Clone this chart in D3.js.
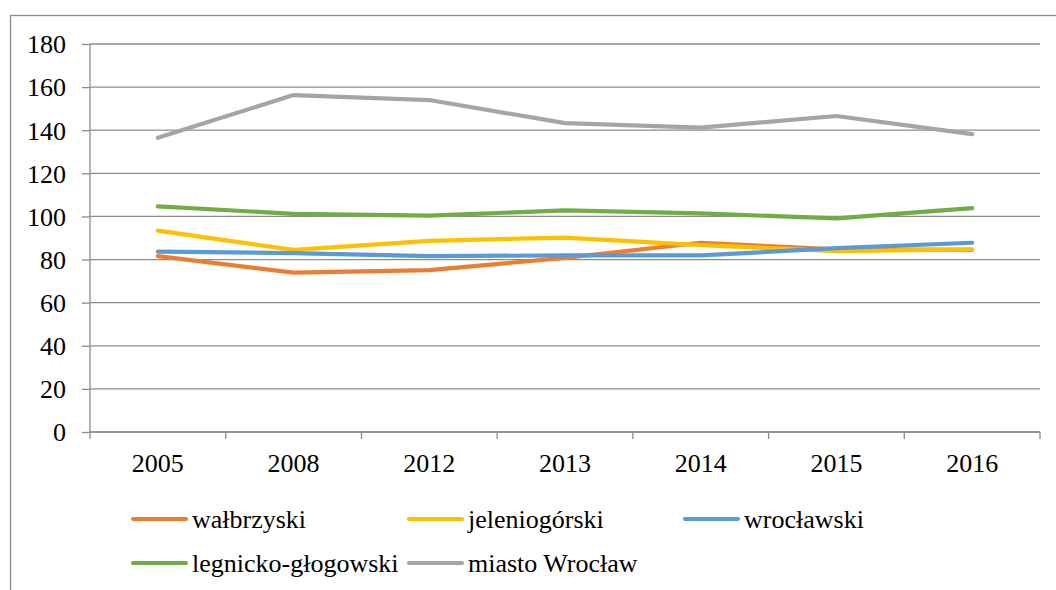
<!DOCTYPE html>
<html>
<head>
<meta charset="utf-8">
<script src="https://cdn.jsdelivr.net/npm/d3@7"></script>
<style>
  body { margin: 0; background: #fff; }
</style>
</head>
<body>
<div id="chart"></div>
<script>
var years = ["2005", "2008", "2012", "2013", "2014", "2015", "2016"];
var walbrzyski = [81.6, 73.9, 75.1, 80.8, 87.8, 84.7, 84.5];
var jeleniogorski = [93.4, 84.5, 88.7, 90.2, 86.7, 83.9, 84.7];
var wroclawski = [83.7, 83.0, 81.6, 81.9, 81.9, 85.3, 87.8];
var legnicko = [104.7, 101.2, 100.4, 102.8, 101.4, 99.1, 103.9];
var miastoWroclaw = [136.5, 156.3, 154.0, 143.3, 141.2, 146.6, 138.2];
var yTicks = [0, 20, 40, 60, 80, 100, 120, 140, 160, 180];

var series = [
    {name: "wałbrzyski", values: walbrzyski, color: "#ED7D31"},
    {name: "jeleniogórski", values: jeleniogorski, color: "#FFC000"},
    {name: "wrocławski", values: wroclawski, color: "#5B9BD5"},
    {name: "legnicko-głogowski", values: legnicko, color: "#70AD47"},
    {name: "miasto Wrocław", values: miastoWroclaw, color: "#A5A5A5"}
];

var font = "'Liberation Serif', 'Times New Roman', 'DejaVu Serif', serif";

var width = 1056, height = 590;
var margin = {top: 44, left: 90, right: 16, bottom: 158};
var plotW = width - margin.left - margin.right,
    plotH = height - margin.top - margin.bottom;

var svg = d3.select("#chart").append("svg")
    .attr("width", width)
    .attr("height", height);

// outer frame
svg.append("rect")
    .attr("x", 10.5).attr("y", 15.5)
    .attr("width", 1100).attr("height", 700)
    .attr("fill", "none")
    .attr("stroke", "#8c8c8c")
    .attr("stroke-width", 1.3);

var g = svg.append("g")
    .attr("transform", "translate(" + margin.left + "," + margin.top + ")");

var x = d3.scaleBand()
    .domain(years)
    .range([0, plotW]);

var y = d3.scaleLinear()
    .domain([0, 180])
    .range([plotH, 0]);

// gridlines
g.selectAll(".grid")
    .data(yTicks)
    .enter().append("line")
    .attr("x1", 0).attr("x2", plotW)
    .attr("y1", function(d) { return y(d); })
    .attr("y2", function(d) { return y(d); })
    .attr("stroke", "#8c8c8c")
    .attr("stroke-width", 1.3);

// y axis
var yAxis = g.append("g")
    .call(d3.axisLeft(y).tickValues(yTicks).tickSize(8).tickPadding(16));
yAxis.attr("font-family", null).attr("font-size", null);
yAxis.selectAll("text").style("font-size", "26px").style("font-family", font)
    .attr("fill", "#000").attr("dy", "0.34em");
yAxis.selectAll("line, path").attr("stroke", "#8c8c8c").attr("stroke-width", 1.3);
yAxis.select(".domain").attr("d", "M0,0V" + plotH);

// x axis with ticks at category boundaries
var xAxis = g.append("g")
    .attr("transform", "translate(0," + plotH + ")")
    .call(d3.axisBottom(x).tickSize(0).tickPadding(22));
xAxis.attr("font-family", null).attr("font-size", null);
xAxis.selectAll("text").style("font-size", "26px").style("font-family", font)
    .attr("fill", "#000").attr("dy", "0.71em");
xAxis.select(".domain").attr("d", "M0,0H" + plotW).attr("stroke", "#8c8c8c").attr("stroke-width", 1.3);

var bounds = years.map(function(d) { return x(d); }).concat([plotW]);
xAxis.selectAll(".bound")
    .data(bounds)
    .enter().append("line")
    .attr("x1", function(d) { return d; })
    .attr("x2", function(d) { return d; })
    .attr("y1", 0).attr("y2", 7)
    .attr("stroke", "#8c8c8c")
    .attr("stroke-width", 1.3);

// lines
var line = d3.line()
    .x(function(d, i) { return x(years[i]) + x.bandwidth() / 2; })
    .y(function(d) { return y(d); });

g.selectAll(".series")
    .data(series)
    .enter().append("path")
    .attr("d", function(d) { return line(d.values); })
    .attr("fill", "none")
    .attr("stroke", function(d) { return d.color; })
    .attr("stroke-width", 4.2)
    .attr("stroke-linejoin", "round")
    .attr("stroke-linecap", "round");

// legend
var legendPos = [[133, 519], [409, 519], [685, 519], [133, 563], [409, 563]];
var legend = svg.selectAll(".legend")
    .data(series)
    .enter().append("g")
    .attr("transform", function(d, i) {
        return "translate(" + legendPos[i][0] + "," + legendPos[i][1] + ")";
    });

legend.append("line")
    .attr("x1", 0).attr("x2", 53)
    .attr("y1", 0).attr("y2", 0)
    .attr("stroke", function(d) { return d.color; })
    .attr("stroke-width", 4.2)
    .attr("stroke-linecap", "round");

legend.append("text")
    .attr("x", 59)
    .attr("y", 9)
    .style("font-size", "26px")
    .style("font-family", font)
    .text(function(d) { return d.name; });
</script>
</body>
</html>
